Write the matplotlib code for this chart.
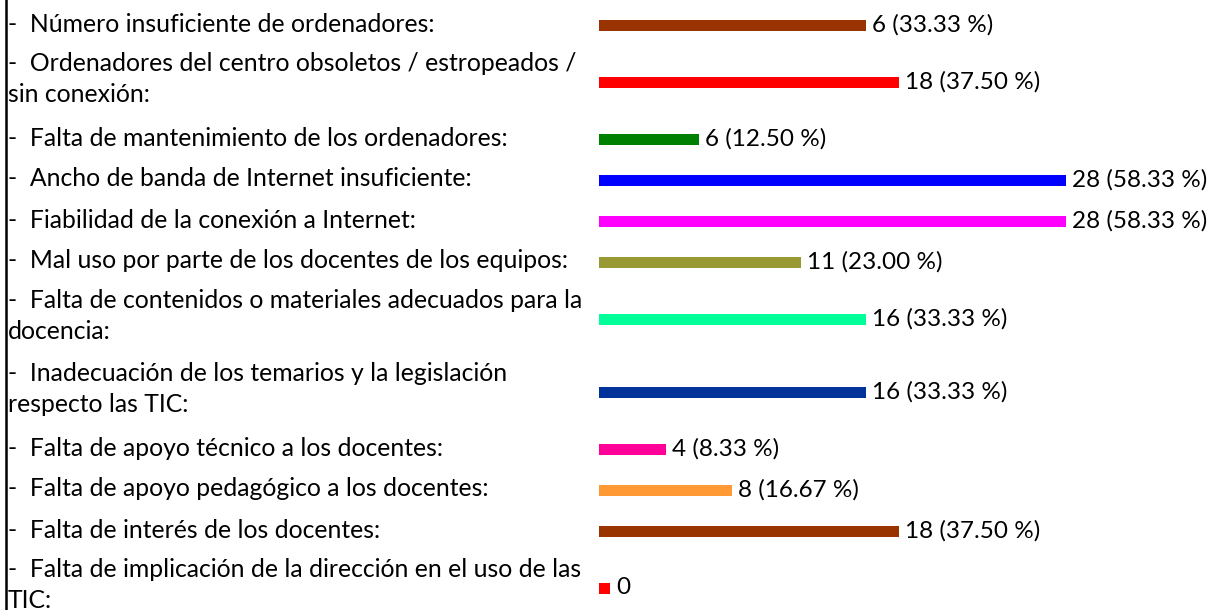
import numpy as np
import matplotlib
matplotlib.use('Agg')
import matplotlib.pyplot as plt
import matplotlib.transforms as mtransforms
from matplotlib.lines import Line2D

plt.rcParams['font.family'] = ['Lato', 'DejaVu Sans']

# datos
labels = [
    "-  Número insuficiente de ordenadores:",
    "-  Ordenadores del centro obsoletos / estropeados /\nsin conexión:",
    "-  Falta de mantenimiento de los ordenadores:",
    "-  Ancho de banda de Internet insuficiente:",
    "-  Fiabilidad de la conexión a Internet:",
    "-  Mal uso por parte de los docentes de los equipos:",
    "-  Falta de contenidos o materiales adecuados para la\ndocencia:",
    "-  Inadecuación de los temarios y la legislación\nrespecto las TIC:",
    "-  Falta de apoyo técnico a los docentes:",
    "-  Falta de apoyo pedagógico a los docentes:",
    "-  Falta de interés de los docentes:",
    "-  Falta de implicación de la dirección en el uso de las\nTIC:",
]
counts = [6, 18, 6, 28, 28, 11, 16, 16, 4, 8, 18, 0]
pct_text = ["33.33", "37.50", "12.50", "58.33", "58.33", "23.00", "33.33", "33.33", "8.33", "16.67", "37.50", ""]
bar_len = [33.33, 37.5, 12.5, 58.33, 58.33, 25.2, 33.33, 33.33, 8.33, 16.67, 37.5, 0]  # longitud dibujada (%)
colors = ['#993300', '#FF0000', '#008000', '#0000FF', '#FF00FF', '#999933',
          '#00FF99', '#003399', '#FF0099', '#FF9933', '#993300', '#FF0000']

W, H = 1208, 610
fig = plt.figure(figsize=(W / 100, H / 100), dpi=100)
ax = fig.add_axes([0, 0, 1, 1])
px = 8.0          # pixeles por punto porcentual
x0 = 599          # inicio de las barras
ax.set_xlim(-x0 / px, (W - x0) / px)
ax.set_ylim(H, 0)
ax.axis('off')

# alto de fila segun numero de lineas
row_h = [41 if '\n' not in l else 73 for l in labels]
tops = 4.5 + np.concatenate([[0], np.cumsum(row_h)[:-1]])
centers = tops + np.array(row_h) / 2

min_w = 11 / px
widths = [max(v, min_w) for v in bar_len]
ax.barh(centers, widths, height=11, left=0, color=colors)

lab_tr = mtransforms.blended_transform_factory(fig.transFigure, ax.transData)
for lab, c in zip(labels, centers):
    dy = -3 if '\n' in lab else -1
    ax.text(8 / W, c + dy, lab, transform=lab_tr, ha='left', va='center',
            fontsize=17.8, color='black', linespacing=1.45)

for n, p, w, c in zip(counts, pct_text, widths, centers):
    txt = str(n) if p == "" else "%d (%s %%)" % (n, p)
    ax.text(w + 6 / px, c, txt, ha='left', va='center', fontsize=17.5, color='black')

fig.add_artist(Line2D([5.5 / W, 5.5 / W], [0, 1], transform=fig.transFigure,
                      color='black', lw=1.8))

plt.savefig('out.png', dpi=100)
